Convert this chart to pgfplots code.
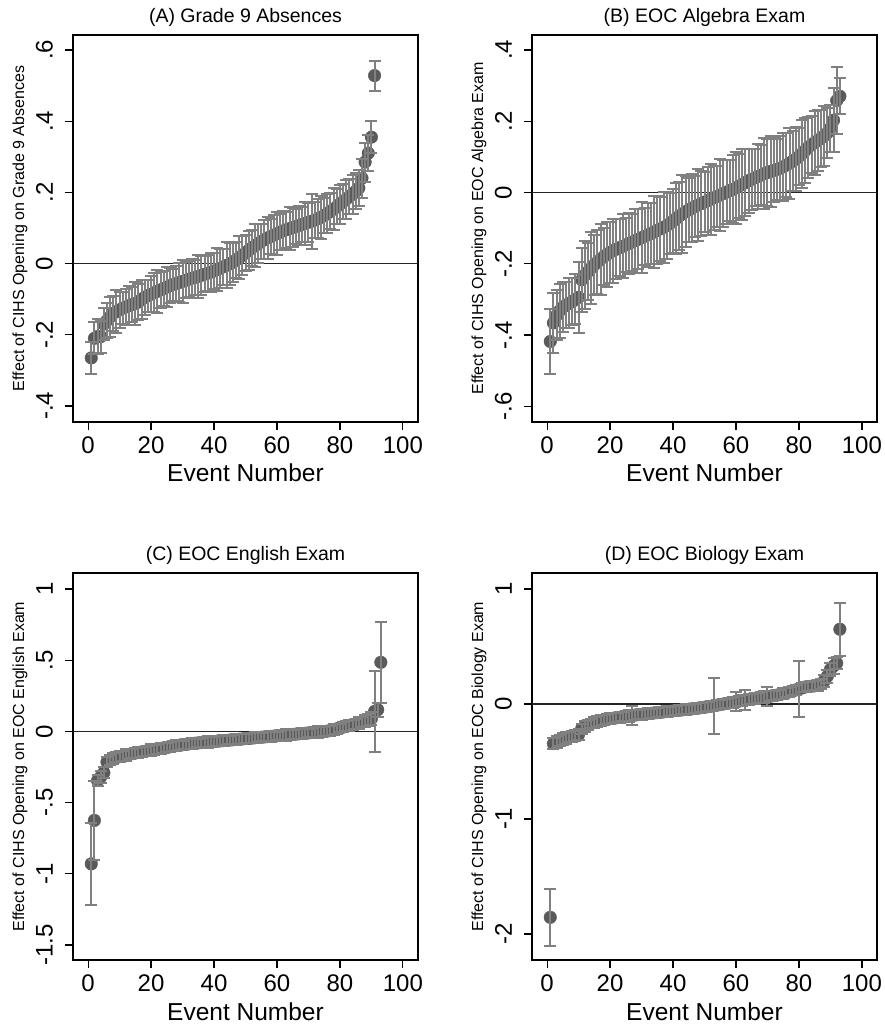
\documentclass[border=0pt]{standalone}
\usepackage{fontspec}
\setmainfont{Liberation Sans}
\usepackage{pgfplots}
\usepackage{pgfplotstable}
\pgfplotsset{compat=1.18}
\definecolor{mk}{RGB}{90,90,90}
\definecolor{eb}{RGB}{128,128,128}
\definecolor{zl}{RGB}{35,35,35}

\pgfplotstableread{
n y e
1 -0.265 0.045
2 -0.210 0.045
3 -0.205 0.050
4 -0.205 0.045
5 -0.170 0.045
6 -0.160 0.050
7 -0.150 0.055
8 -0.140 0.050
9 -0.135 0.060
10 -0.130 0.050
11 -0.125 0.045
12 -0.122 0.050
13 -0.118 0.055
14 -0.115 0.050
15 -0.112 0.060
16 -0.108 0.050
17 -0.100 0.055
18 -0.095 0.050
19 -0.090 0.045
20 -0.086 0.050
21 -0.082 0.055
22 -0.078 0.060
23 -0.074 0.050
24 -0.070 0.050
25 -0.066 0.055
26 -0.062 0.050
27 -0.059 0.045
28 -0.056 0.050
29 -0.053 0.055
30 -0.050 0.060
31 -0.047 0.050
32 -0.044 0.050
33 -0.041 0.055
34 -0.039 0.050
35 -0.036 0.060
36 -0.033 0.055
37 -0.030 0.050
38 -0.027 0.050
39 -0.024 0.055
40 -0.021 0.050
41 -0.017 0.060
42 -0.013 0.055
43 -0.009 0.050
44 -0.005 0.065
45 -0.001 0.060
46 0.004 0.055
47 0.010 0.050
48 0.016 0.060
49 0.023 0.055
50 0.030 0.050
51 0.037 0.055
52 0.044 0.050
53 0.050 0.060
54 0.056 0.055
55 0.062 0.050
56 0.067 0.055
57 0.072 0.060
58 0.076 0.050
59 0.080 0.055
60 0.084 0.060
61 0.088 0.050
62 0.092 0.055
63 0.095 0.050
64 0.098 0.060
65 0.101 0.055
66 0.104 0.050
67 0.107 0.055
68 0.110 0.050
69 0.113 0.060
70 0.116 0.055
71 0.119 0.077
72 0.122 0.050
73 0.126 0.055
74 0.130 0.060
75 0.135 0.050
76 0.141 0.055
77 0.147 0.050
78 0.153 0.060
79 0.160 0.050
80 0.167 0.055
81 0.174 0.050
82 0.181 0.055
83 0.188 0.050
84 0.195 0.055
85 0.203 0.050
86 0.212 0.050
87 0.240 0.055
88 0.285 0.055
89 0.310 0.050
90 0.355 0.045
91 0.528 0.042
}\tA

\pgfplotstableread{
n y e
1 -0.418 0.090
2 -0.366 0.085
3 -0.345 0.070
4 -0.332 0.075
5 -0.322 0.070
6 -0.316 0.065
7 -0.311 0.070
8 -0.306 0.065
9 -0.300 0.070
10 -0.294 0.100
11 -0.245 0.090
12 -0.232 0.095
13 -0.222 0.080
14 -0.212 0.100
15 -0.203 0.085
16 -0.195 0.090
17 -0.187 0.100
18 -0.180 0.080
19 -0.174 0.090
20 -0.168 0.085
21 -0.163 0.090
22 -0.159 0.085
23 -0.155 0.080
24 -0.151 0.090
25 -0.147 0.075
26 -0.143 0.085
27 -0.139 0.080
28 -0.135 0.090
29 -0.131 0.085
30 -0.127 0.100
31 -0.123 0.080
32 -0.119 0.090
33 -0.115 0.085
34 -0.111 0.100
35 -0.106 0.095
36 -0.102 0.090
37 -0.098 0.100
38 -0.093 0.095
39 -0.087 0.085
40 -0.080 0.090
41 -0.073 0.100
42 -0.066 0.095
43 -0.060 0.110
44 -0.054 0.100
45 -0.049 0.090
46 -0.044 0.095
47 -0.039 0.085
48 -0.035 0.100
49 -0.031 0.090
50 -0.027 0.085
51 -0.023 0.095
52 -0.019 0.100
53 -0.015 0.090
54 -0.011 0.085
55 -0.007 0.100
56 -0.003 0.095
57 0.001 0.090
58 0.005 0.085
59 0.009 0.095
60 0.013 0.100
61 0.018 0.090
62 0.023 0.100
63 0.028 0.095
64 0.033 0.090
65 0.037 0.085
66 0.041 0.080
67 0.045 0.090
68 0.049 0.085
69 0.053 0.100
70 0.056 0.095
71 0.059 0.100
72 0.062 0.090
73 0.065 0.085
74 0.068 0.090
75 0.072 0.095
76 0.077 0.090
77 0.082 0.100
78 0.088 0.085
79 0.094 0.090
80 0.101 0.080
81 0.109 0.095
82 0.118 0.090
83 0.127 0.085
84 0.134 0.080
85 0.140 0.090
86 0.146 0.085
87 0.152 0.080
88 0.159 0.085
89 0.167 0.070
90 0.180 0.065
91 0.203 0.090
92 0.258 0.095
93 0.270 0.050
}\tB

\pgfplotstableread{
n y e
1 -0.930 0.290
2 -0.625 0.280
3 -0.345 0.040
4 -0.320 0.040
5 -0.290 0.040
6 -0.215 0.035
7 -0.200 0.035
8 -0.190 0.040
9 -0.183 0.035
10 -0.177 0.040
11 -0.172 0.035
12 -0.167 0.040
13 -0.162 0.035
14 -0.157 0.030
15 -0.152 0.035
16 -0.148 0.040
17 -0.144 0.035
18 -0.140 0.030
19 -0.136 0.035
20 -0.132 0.040
21 -0.128 0.035
22 -0.124 0.035
23 -0.120 0.040
24 -0.116 0.035
25 -0.112 0.030
26 -0.108 0.035
27 -0.104 0.035
28 -0.100 0.040
29 -0.097 0.035
30 -0.094 0.030
31 -0.091 0.035
32 -0.088 0.035
33 -0.085 0.040
34 -0.083 0.035
35 -0.081 0.030
36 -0.079 0.035
37 -0.077 0.035
38 -0.075 0.040
39 -0.073 0.035
40 -0.071 0.030
41 -0.069 0.035
42 -0.067 0.035
43 -0.065 0.040
44 -0.063 0.035
45 -0.061 0.030
46 -0.059 0.035
47 -0.057 0.040
48 -0.055 0.035
49 -0.053 0.035
50 -0.051 0.030
51 -0.049 0.035
52 -0.047 0.035
53 -0.045 0.040
54 -0.043 0.035
55 -0.041 0.030
56 -0.039 0.035
57 -0.037 0.035
58 -0.035 0.040
59 -0.033 0.035
60 -0.031 0.030
61 -0.029 0.035
62 -0.027 0.035
63 -0.025 0.040
64 -0.023 0.035
65 -0.021 0.030
66 -0.019 0.035
67 -0.017 0.035
68 -0.015 0.040
69 -0.013 0.035
70 -0.011 0.030
71 -0.009 0.035
72 -0.007 0.035
73 -0.005 0.040
74 -0.003 0.035
75 -0.001 0.030
76 0.002 0.035
77 0.006 0.035
78 0.012 0.040
79 0.018 0.035
80 0.024 0.030
81 0.030 0.035
82 0.036 0.035
83 0.042 0.040
84 0.048 0.035
85 0.054 0.035
86 0.060 0.040
87 0.066 0.035
88 0.072 0.040
89 0.080 0.040
90 0.090 0.045
91 0.140 0.287
92 0.152 0.050
93 0.485 0.285
}\tC

\pgfplotstableread{
n y e
1 -1.855 0.250
2 -0.345 0.050
3 -0.330 0.050
4 -0.318 0.045
5 -0.305 0.050
6 -0.295 0.050
7 -0.288 0.045
8 -0.281 0.050
9 -0.274 0.045
10 -0.265 0.050
11 -0.215 0.045
12 -0.195 0.050
13 -0.180 0.045
14 -0.170 0.040
15 -0.160 0.045
16 -0.152 0.050
17 -0.145 0.045
18 -0.139 0.040
19 -0.133 0.045
20 -0.128 0.050
21 -0.124 0.045
22 -0.120 0.040
23 -0.116 0.045
24 -0.112 0.040
25 -0.108 0.045
26 -0.104 0.050
27 -0.100 0.080
28 -0.096 0.045
29 -0.093 0.040
30 -0.090 0.045
31 -0.087 0.040
32 -0.084 0.045
33 -0.081 0.040
34 -0.078 0.045
35 -0.075 0.040
36 -0.072 0.045
37 -0.069 0.040
38 -0.066 0.045
39 -0.063 0.040
40 -0.060 0.045
41 -0.057 0.040
42 -0.054 0.045
43 -0.051 0.040
44 -0.048 0.045
45 -0.045 0.040
46 -0.042 0.045
47 -0.039 0.040
48 -0.036 0.045
49 -0.032 0.040
50 -0.028 0.045
51 -0.024 0.040
52 -0.020 0.045
53 -0.015 0.245
54 -0.010 0.045
55 -0.005 0.040
56 0.000 0.045
57 0.005 0.040
58 0.010 0.045
59 0.015 0.050
60 0.020 0.080
61 0.025 0.045
62 0.030 0.050
63 0.035 0.090
64 0.040 0.045
65 0.044 0.040
66 0.048 0.045
67 0.052 0.040
68 0.056 0.045
69 0.060 0.050
70 0.064 0.085
71 0.068 0.045
72 0.072 0.040
73 0.077 0.045
74 0.083 0.040
75 0.090 0.045
76 0.098 0.040
77 0.106 0.045
78 0.114 0.040
79 0.122 0.045
80 0.130 0.247
81 0.140 0.040
82 0.148 0.045
83 0.152 0.040
84 0.155 0.045
85 0.158 0.040
86 0.162 0.045
87 0.175 0.045
88 0.200 0.050
89 0.240 0.055
90 0.300 0.060
91 0.330 0.070
92 0.355 0.050
93 0.650 0.230
}\tD

\pgfplotsset{
  panel/.style={
    scale only axis, width=345pt, height=387pt,
    anchor=south west,
    xmin=-4.8, xmax=104.8,
    axis line style={line width=1.3pt, black},
    tick align=outside, xtick pos=bottom, ytick pos=left,
    major tick length=8pt,
    every tick/.style={line width=1.2pt, black},
    xtick={0,20,40,60,80,100},
    xticklabels={0,20,40,60,80,100},
    xticklabel style={font=\fontsize{24}{24}\selectfont, anchor=north, inner sep=0pt, yshift=-7pt},
    yticklabel style={font=\fontsize{24}{24}\selectfont, rotate=90, anchor=south, inner sep=0pt, yshift=12pt},
    xlabel={Event Number},
    xlabel style={font=\fontsize{24.5}{24}\selectfont, at={(axis description cs:0.5,0)}, anchor=base, yshift=-60pt, inner sep=0pt},
    ylabel style={font=\fontsize{16}{16}\selectfont, at={(axis description cs:-0.142,0.5)}, anchor=base, inner sep=0pt},
    title style={font=\fontsize{19.5}{19.5}\selectfont, at={(axis description cs:0.5,1)}, anchor=base, yshift=6pt, inner sep=0pt},
    clip=false, clip marker paths=true,
  },
  ebar/.style={draw=none, mark=none, forget plot,
    error bars/.cd, y dir=both, y explicit,
    error bar style={line width=2pt, eb},
    error mark options={line width=2pt, eb, mark size=6pt, rotate=90}},
  dots/.style={only marks, mark=*, mark size=6.3pt, mark options={fill=mk, draw=mk}},
  zline/.style={zl, line width=1.5pt, mark=none},
}

\begin{document}
\begin{tikzpicture}
\path[fill=white, use as bounding box] (0,0) rectangle (885pt,1025pt);

\begin{axis}[panel, at={(73pt,603pt)},
  ymin=-0.445, ymax=0.642,
  ytick={-0.4,-0.2,0,0.2,0.4,0.6}, yticklabels={-.4,-.2,0,.2,.4,.6},
  title={(A) Grade 9 Absences},
  ylabel={Effect of CIHS Opening on Grade 9 Absences}]
\addplot[zline] coordinates {(-4.8,0) (104.8,0)};
\addplot[dots] table[x=n, y=y] {\tA};
\addplot[ebar] table[x=n, y=y, y error=e] {\tA};
\end{axis}

\begin{axis}[panel, at={(532pt,603pt)},
  ymin=-0.644, ymax=0.442,
  ytick={-0.6,-0.4,-0.2,0,0.2,0.4}, yticklabels={-.6,-.4,-.2,0,.2,.4},
  title={(B) EOC Algebra Exam},
  ylabel={Effect of CIHS Opening on EOC Algebra Exam}]
\addplot[zline] coordinates {(-4.8,0) (104.8,0)};
\addplot[dots] table[x=n, y=y] {\tB};
\addplot[ebar] table[x=n, y=y, y error=e] {\tB};
\end{axis}

\begin{axis}[panel, at={(73pt,65pt)},
  ymin=-1.605, ymax=1.112,
  ytick={-1.5,-1,-0.5,0,0.5,1}, yticklabels={-1.5,-1,-.5,0,.5,1},
  title={(C) EOC English Exam},
  ylabel={Effect of CIHS Opening on EOC English Exam}]
\addplot[zline] coordinates {(-4.8,0) (104.8,0)};
\addplot[dots] table[x=n, y=y] {\tC};
\addplot[ebar] table[x=n, y=y, y error=e] {\tC};
\end{axis}

\begin{axis}[panel, at={(532pt,65pt)},
  ymin=-2.226, ymax=1.139,
  ytick={-2,-1,0,1}, yticklabels={-2,-1,0,1},
  title={(D) EOC Biology Exam},
  ylabel={Effect of CIHS Opening on EOC Biology Exam}]
\addplot[zline] coordinates {(-4.8,0) (104.8,0)};
\addplot[dots] table[x=n, y=y] {\tD};
\addplot[ebar] table[x=n, y=y, y error=e] {\tD};
\end{axis}
\end{tikzpicture}
\end{document}
